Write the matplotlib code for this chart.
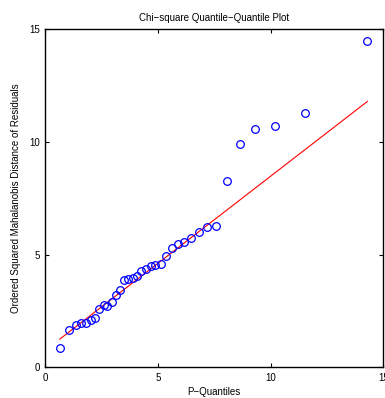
import matplotlib
matplotlib.use('Agg')
import matplotlib.pyplot as plt
import numpy as np

# chi-square quantiles vs ordered squared Mahalanobis distances
p_quantiles = [0.64, 1.05, 1.35, 1.60, 1.82, 2.01, 2.22, 2.40, 2.59, 2.75,
               2.96, 3.14, 3.32, 3.49, 3.68, 3.88, 4.07, 4.26, 4.47, 4.68,
               4.88, 5.12, 5.34, 5.61, 5.88, 6.16, 6.47, 6.81, 7.18, 7.59,
               8.07, 8.63, 9.32, 10.21, 11.54, 14.29]
sq_distances = [0.84, 1.65, 1.89, 1.95, 1.98, 2.08, 2.17, 2.60, 2.75, 2.73,
                2.88, 3.22, 3.41, 3.87, 3.90, 3.96, 4.05, 4.26, 4.37, 4.49,
                4.55, 4.59, 4.92, 5.29, 5.48, 5.56, 5.75, 6.01, 6.25, 6.28,
                8.29, 9.90, 10.60, 10.73, 11.31, 14.48]
fit_slope = 0.773
fit_intercept = 0.755
ticks = [0, 5, 10, 15]

plt.rcParams['font.family'] = ['Liberation Sans', 'DejaVu Sans']

fig = plt.figure(figsize=(3.85, 3.98), dpi=100)
ax = fig.add_axes([0.1177, 0.0771, 0.878, 0.849])

xs = np.array([p_quantiles[0], p_quantiles[-1]])
ax.plot(xs, fit_intercept + fit_slope * xs, color='red', lw=0.8)
ax.plot(p_quantiles, sq_distances, 'o', mfc='none', mec='blue',
        ms=5.5, mew=0.9)

ax.set_xlim(0, 15)
ax.set_ylim(0, 15)
ax.set_xticks(ticks)
ax.set_yticks(ticks)
ax.tick_params(direction='in', top=True, right=True, labelsize=7,
               length=3, width=0.8, pad=4)
for s in ax.spines.values():
    s.set_linewidth(1.0)

ax.set_title('Chi\u2212square Quantile\u2212Quantile Plot', fontsize=7, pad=6)
ax.set_xlabel('P\u2212Quantiles', fontsize=7, labelpad=3)
ax.set_ylabel('Ordered Squared Mahalanobis Distance of Residuals',
              fontsize=7, labelpad=6)

fig.savefig('out.png', dpi=100)
